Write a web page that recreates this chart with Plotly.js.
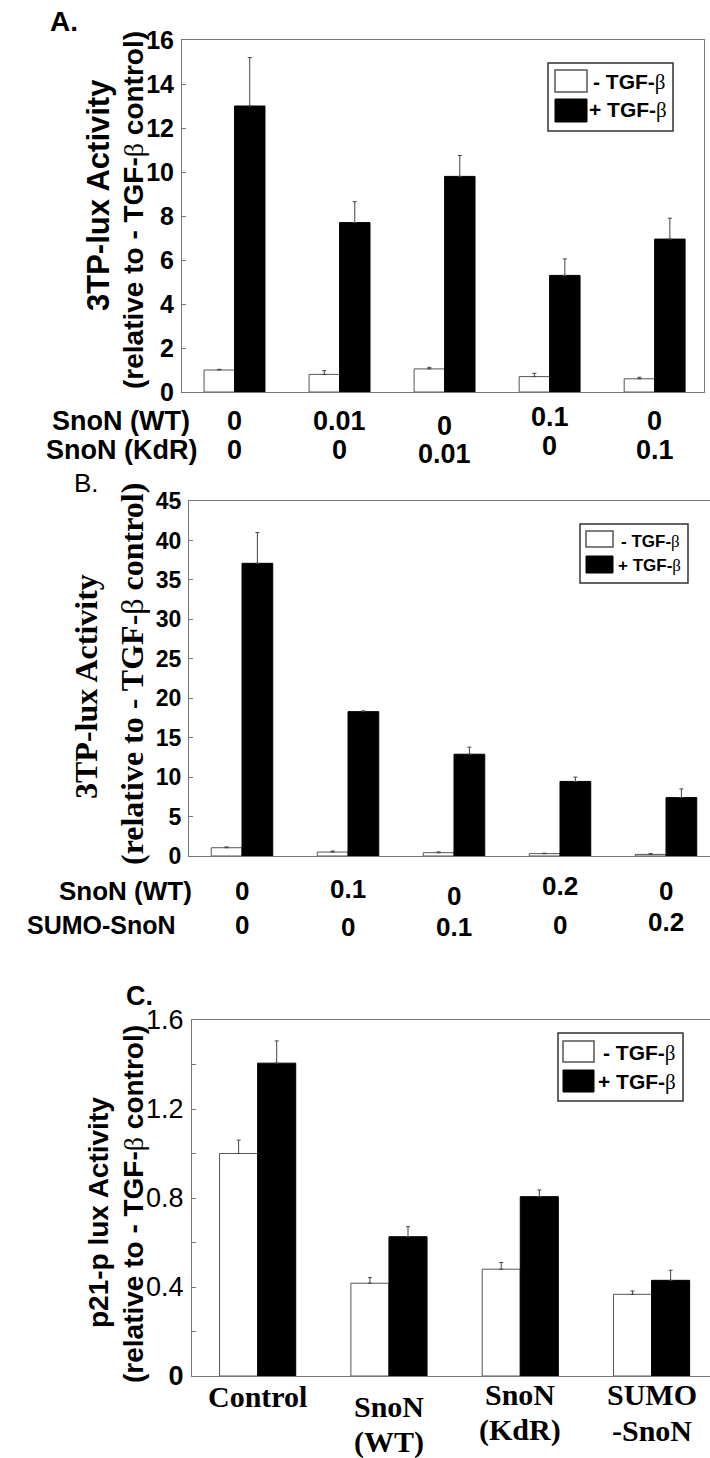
<!DOCTYPE html>
<html>
<head>
<meta charset="utf-8">
<script src="https://cdn.plot.ly/plotly-3.0.1.min.js"></script>
<style>html,body{margin:0;padding:0;background:#fff;overflow:hidden;}#chart{width:710px;height:1458px;}</style>
</head>
<body>
<div id="chart"></div>
<script>
// ---------- DATA ----------
const seriesNames = ['- TGF-\u03b2', '+ TGF-\u03b2'];

// Panel A : 3TP-lux, SnoN WT vs KdR
const groupsA = [0, 1, 2, 3, 4];
const rowLabelsA = ['SnoN (WT)', 'SnoN (KdR)'];
const snonWT_A = ['0', '0.01', '0', '0.1', '0'];
const snonKdR_A = ['0', '0', '0.01', '0', '0.1'];
const minusA = [1.0, 0.8, 1.05, 0.7, 0.6];
const minusErrA = [0.03, 0.17, 0.07, 0.15, 0.07];
const plusA = [13.0, 7.7, 9.8, 5.3, 6.95];
const plusErrA = [2.2, 0.95, 0.95, 0.75, 0.95];

// Panel B : 3TP-lux, SnoN WT vs SUMO-SnoN
const groupsB = [0, 1, 2, 3, 4];
const rowLabelsB = ['SnoN (WT)', 'SUMO-SnoN'];
const snonWT_B = ['0', '0.1', '0', '0.2', '0'];
const sumoSnoN_B = ['0', '0', '0.1', '0', '0.2'];
const minusB = [1.05, 0.5, 0.42, 0.3, 0.2];
const minusErrB = [0.1, 0.13, 0.1, 0.05, 0.1];
const plusB = [37.1, 18.3, 12.9, 9.45, 7.4];
const plusErrB = [3.9, 0.1, 0.9, 0.55, 1.1];

// Panel C : p21-p lux
const groupsC = [0, 1, 2, 3];
const catLabelsC = [['Control'], ['SnoN', '(WT)'], ['SnoN', '(KdR)'], ['SUMO', '-SnoN']];
const minusC = [1.0, 0.417, 0.48, 0.367];
const minusErrC = [0.06, 0.025, 0.03, 0.015];
const plusC = [1.406, 0.626, 0.806, 0.43];
const plusErrC = [0.1, 0.045, 0.03, 0.045];

// ticks
const ticksA = [0, 2, 4, 6, 8, 10, 12, 14, 16];
const ticksB = [0, 5, 10, 15, 20, 25, 30, 35, 40, 45];
const ticksC = [0, 0.2, 0.4, 0.6, 0.8, 1.0, 1.2, 1.4, 1.6];
const tickTextC = ['<b>0</b>', '', '0.4', '', '0.8', '', '1.2', '', '1.6'];

// ---------- HELPERS ----------
const W = 710, H = 1458;
const px = x => x / W;
const py = y => 1 - y / H;
const SANS = 'Liberation Sans, Arial, Helvetica, sans-serif';
const SERIF = 'Liberation Serif, Times New Roman, serif';
const beta = '<span style="font-family:Liberation Serif,serif;font-weight:normal">\u03b2</span>';
const zeros = a => a.map(() => 0);

function barPair(xs, minus, minusErr, plus, plusErr, xa, ya) {
  return [
    {type: 'bar', x: xs, y: minus, name: seriesNames[0], xaxis: xa, yaxis: ya, showlegend: false,
     marker: {color: '#ffffff', line: {color: '#555555', width: 1}},
     error_y: {type: 'data', symmetric: false, array: minusErr, arrayminus: zeros(minusErr), color: '#444', thickness: 1, width: 2}},
    {type: 'bar', x: xs, y: plus, name: seriesNames[1], xaxis: xa, yaxis: ya, showlegend: false,
     marker: {color: '#000000', line: {color: '#000000', width: 1}},
     error_y: {type: 'data', symmetric: false, array: plusErr, arrayminus: zeros(plusErr), color: '#444', thickness: 1, width: 2}}
  ];
}

const data = [].concat(
  barPair(groupsA, minusA, minusErrA, plusA, plusErrA, 'x', 'y'),
  barPair(groupsB, minusB, minusErrB, plusB, plusErrB, 'x2', 'y2'),
  barPair(groupsC, minusC, minusErrC, plusC, plusErrC, 'x3', 'y3')
);

const axLine = '#777777';
function xAx(dom, range, anchor) {
  return {domain: dom, range: range, anchor: anchor, showticklabels: false, ticks: '',
    showline: true, linecolor: axLine, linewidth: 1, mirror: true, showgrid: false, zeroline: false, fixedrange: true};
}
function yAx(dom, range, anchor, tickvals, ticktext, font, mirror) {
  return {domain: dom, range: range, anchor: anchor, tickmode: 'array', tickvals: tickvals, ticktext: ticktext,
    ticks: 'inside', ticklen: 4, tickcolor: axLine, showline: true, linecolor: axLine, linewidth: 1, mirror: mirror,
    showgrid: false, zeroline: false, tickfont: font, fixedrange: true, ticklabelstandoff: 2};
}

const annotations = [];
const shapes = [];
function txt(x, y, text, size, opts) {
  annotations.push(Object.assign({xref: 'paper', yref: 'paper', x: px(x), y: py(y), text: text, showarrow: false,
    xanchor: 'center', yanchor: 'middle', font: {family: SANS, size: size, color: '#000', weight: 'bold'}}, opts || {}));
}
function legend(box, sw1, sw2, t1, t2, size) {
  shapes.push({type: 'rect', xref: 'paper', yref: 'paper', x0: px(box[0]), x1: px(box[1]), y0: py(box[2]), y1: py(box[3]),
    line: {color: '#333', width: 1.5}, fillcolor: 'rgba(0,0,0,0)'});
  shapes.push({type: 'rect', xref: 'paper', yref: 'paper', x0: px(sw1[0]), x1: px(sw1[1]), y0: py(sw1[2]), y1: py(sw1[3]),
    line: {color: '#555', width: 1.5}, fillcolor: '#fff'});
  shapes.push({type: 'rect', xref: 'paper', yref: 'paper', x0: px(sw2[0]), x1: px(sw2[1]), y0: py(sw2[2]), y1: py(sw2[3]),
    line: {color: '#000', width: 1}, fillcolor: '#000'});
  const fmt = s => s.replace('\u03b2', beta);
  txt(t1[0], t1[1], fmt(seriesNames[0]), size, {xanchor: 'left'});
  txt(t2[0], t2[1], fmt(seriesNames[1]), size, {xanchor: 'left'});
}

// Panel labels
txt(48, 22, 'A.', 28, {xanchor: 'left'});
txt(72, 483, 'B.', 26, {xanchor: 'left', font: {family: SANS, size: 26, color: '#000', weight: 'normal'}});
txt(124, 996, 'C.', 27, {xanchor: 'left'});

// Y titles
const t2 = '(relative to - TGF-' + beta + ' control)';
txt(98, 195, '3TP-lux Activity', 31, {textangle: -90});
txt(133, 210, t2, 28, {textangle: -90});
txt(86, 687, '3TP-lux Activity', 32, {textangle: -90, font: {family: SERIF, size: 32, color: '#000', weight: 'bold'}});
txt(132, 674, '(relative to - TGF-' + '<span style="font-weight:normal">\u03b2</span>' + ' control)', 32,
    {textangle: -90, font: {family: SERIF, size: 32, color: '#000', weight: 'bold'}});
txt(98, 1213, 'p21-p lux Activity', 28, {textangle: -90});
txt(133, 1204, t2, 28, {textangle: -90});

// Row labels A
const jitA1 = [0, 0, 5, -4, 0], jitA2 = [0, 0, 4, -4, 0];
txt(192, 421, rowLabelsA[0], 27, {xanchor: 'right'});
txt(199, 450, rowLabelsA[1], 27, {xanchor: 'right'});
groupsA.forEach((g, i) => {
  annotations.push({xref: 'x', yref: 'paper', x: g, y: py(421 + jitA1[i]), text: snonWT_A[i], showarrow: false,
    xanchor: 'center', yanchor: 'middle', font: {family: SANS, size: 27, color: '#000', weight: 'bold'}});
  annotations.push({xref: 'x', yref: 'paper', x: g, y: py(450 + jitA2[i]), text: snonKdR_A[i], showarrow: false,
    xanchor: 'center', yanchor: 'middle', font: {family: SANS, size: 27, color: '#000', weight: 'bold'}});
});

// Row labels B
const jitB1 = [0, -2, 5, -5, 0], jitB2 = [0, 2, 2, 0, -3];
txt(194, 891, rowLabelsB[0], 26, {xanchor: 'right'});
txt(178, 925, rowLabelsB[1], 25, {xanchor: 'right'});
groupsB.forEach((g, i) => {
  annotations.push({xref: 'x2', yref: 'paper', x: g, y: py(891 + jitB1[i]), text: snonWT_B[i], showarrow: false,
    xanchor: 'center', yanchor: 'middle', font: {family: SANS, size: 26, color: '#000', weight: 'bold'}});
  annotations.push({xref: 'x2', yref: 'paper', x: g, y: py(925 + jitB2[i]), text: sumoSnoN_B[i], showarrow: false,
    xanchor: 'center', yanchor: 'middle', font: {family: SANS, size: 26, color: '#000', weight: 'bold'}});
});

// Category labels C
const jitC = [0, 10, -2, -2];
groupsC.forEach((g, i) => {
  const lines = catLabelsC[i];
  lines.forEach((ln, k) => {
    annotations.push({xref: 'x3', yref: 'paper', x: g, y: py(1396 + jitC[i] + k * 36), text: ln, showarrow: false,
      xanchor: 'center', yanchor: 'middle', font: {family: SERIF, size: 30, color: '#000', weight: 'bold'}});
  });
});

// Legends
legend([548, 673, 63, 131], [555, 587, 70, 92], [555, 587, 99, 122], [591, 82], [587, 110], 21);
legend([580, 688, 524, 583], [586, 613, 531, 547], [586, 613, 556, 573], [619, 541], [616, 565], 17);
legend([558, 683, 1033, 1101], [563, 594, 1041, 1062], [563, 594, 1070, 1092], [601, 1053], [596, 1082], 21);

const layout = {
  width: W, height: H, margin: {l: 0, r: 0, t: 0, b: 0}, paper_bgcolor: '#fff', plot_bgcolor: '#fff',
  barmode: 'group', bargap: 0.42, bargroupgap: 0, showlegend: false,
  xaxis: xAx([px(182), px(704)], [-0.5, 4.47], 'y'),
  yaxis: yAx([py(392), py(40)], [0, 16], 'x', ticksA, ticksA.map(String), {family: SANS, size: 25, color: '#000', weight: 'bold'}, true),
  xaxis2: xAx([px(189), 1], [-0.5, 4.415], 'y2'),
  yaxis2: yAx([py(856), py(501)], [0, 45], 'x2', ticksB, ticksB.map(String), {family: SANS, size: 23, color: '#000', weight: 'bold'}, false),
  xaxis3: xAx([px(192), 1], [-0.5, 3.445], 'y3'),
  yaxis3: yAx([py(1376), py(1020)], [0, 1.6], 'x3', ticksC, tickTextC, {family: SANS, size: 27, color: '#000'}, false),
  annotations: annotations, shapes: shapes
};

Plotly.newPlot('chart', data, layout, {staticPlot: true, displayModeBar: false});
</script>
</body>
</html>
